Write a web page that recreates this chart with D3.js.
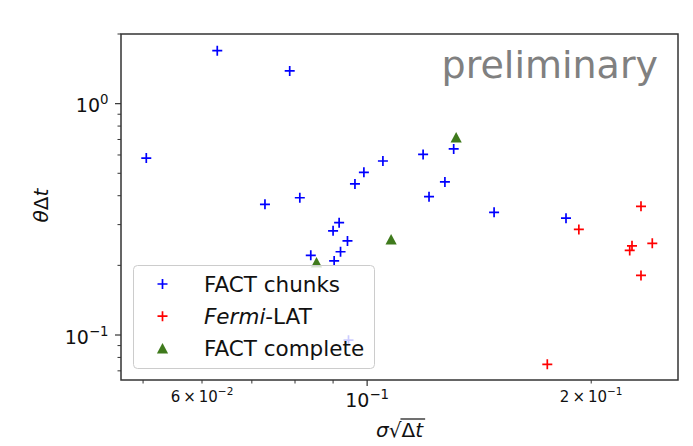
<!DOCTYPE html>
<html>
<head>
<meta charset="utf-8">
<script src="https://cdn.jsdelivr.net/npm/d3@7"></script>
<style>
  body { margin: 0; background: #fff; }
  svg { display: block; font-family: "DejaVu Sans", sans-serif; }
</style>
</head>
<body>
<div id="chart"></div>
<script>
// FACT chunks (blue +)
const chunksX = [0.0629, 0.0787, 0.0505, 0.0729, 0.0812, 0.1050, 0.0990, 0.0963, 0.1189, 0.1307,
                 0.1272, 0.1211, 0.0917, 0.0900, 0.0941, 0.0921, 0.0840, 0.0903, 0.1481, 0.1850, 0.0944];
const chunksY = [1.695, 1.385, 0.582, 0.367, 0.392, 0.565, 0.505, 0.450, 0.603, 0.637,
                 0.459, 0.396, 0.306, 0.282, 0.255, 0.229, 0.221, 0.209, 0.339, 0.320, 0.095];
// Fermi-LAT (red +)
const fermiX = [0.2333, 0.1925, 0.2269, 0.2253, 0.2416, 0.2333, 0.1746];
const fermiY = [0.360, 0.286, 0.243, 0.232, 0.249, 0.181, 0.0747];
// FACT complete (green triangles)
const completeX = [0.1317, 0.1077, 0.0855];
const completeY = [0.714, 0.259, 0.206];

// axis ticks
const xMajor = [0.1];
const xMinor = [0.05, 0.06, 0.07, 0.08, 0.09, 0.2];
const xMinorLabels = [[0.06, "6", "−2"], [0.2, "2", "−1"]];
const yMajor = [[1, "0"], [0.1, "−1"]];
const yMinor = [0.07, 0.08, 0.09, 0.2, 0.3, 0.4, 0.5, 0.6, 0.7, 0.8, 0.9, 2];

const W = 693, H = 446;
const margin = { top: 34, right: 15, bottom: 66, left: 121 };
const width = W - margin.left - margin.right;
const height = H - margin.top - margin.bottom;

const svg = d3.select("#chart").append("svg")
  .attr("width", W)
  .attr("height", H);

const x = d3.scaleLog().domain([0.0467, 0.2616]).range([margin.left, margin.left + width]);
const y = d3.scaleLog().domain([0.0639, 2.0]).range([margin.top + height, margin.top]);

const blue = "#0000ff", red = "#ff0000", green = "#3f7a1c";
const plusPath = "M-5,0H5M0,-5V5";
const triPath = "M0,-5.5L5.6,5L-5.6,5Z";

// points
const gPts = svg.append("g");
function plusSeries(xs, ys, color) {
  gPts.selectAll(null)
    .data(xs.map((v, i) => [v, ys[i]]))
    .enter().append("path")
    .attr("d", plusPath)
    .attr("transform", d => `translate(${x(d[0])},${y(d[1])})`)
    .attr("fill", "none")
    .attr("stroke", color)
    .attr("stroke-width", 1.7);
}
plusSeries(chunksX, chunksY, blue);
plusSeries(fermiX, fermiY, red);
gPts.selectAll(null)
  .data(completeX.map((v, i) => [v, completeY[i]]))
  .enter().append("path")
  .attr("d", triPath)
  .attr("transform", d => `translate(${x(d[0])},${y(d[1])})`)
  .attr("fill", green);

// preliminary watermark
svg.append("text")
  .attr("x", 658)
  .attr("y", 78)
  .attr("text-anchor", "end")
  .style("font-size", "38px")
  .style("fill", "#808080")
  .text("preliminary");

// frame
svg.append("rect")
  .attr("x", margin.left)
  .attr("y", margin.top)
  .attr("width", width)
  .attr("height", height)
  .attr("fill", "none")
  .attr("stroke", "#333")
  .attr("stroke-width", 1.5);

const axisColor = "#333";
const yBottom = margin.top + height;

// x ticks
const gx = svg.append("g");
gx.selectAll(null).data(xMajor).enter().append("line")
  .attr("x1", d => x(d)).attr("x2", d => x(d))
  .attr("y1", yBottom).attr("y2", yBottom + 6)
  .attr("stroke", axisColor).attr("stroke-width", 1.2);
gx.selectAll(null).data(xMinor).enter().append("line")
  .attr("x1", d => x(d)).attr("x2", d => x(d))
  .attr("y1", yBottom).attr("y2", yBottom + 3.5)
  .attr("stroke", axisColor).attr("stroke-width", 1);

const xMajLbl = gx.selectAll(null).data(xMajor).enter().append("text")
  .attr("x", d => x(d))
  .attr("y", 406.5)
  .attr("text-anchor", "middle")
  .style("font-size", "19px")
  .style("fill", "#111");
xMajLbl.append("tspan").text("10");
xMajLbl.append("tspan").attr("dy", -8).style("font-size", "13.3px").text("−1");

const xMinLbl = gx.selectAll(null).data(xMinorLabels).enter().append("text")
  .attr("x", d => x(d[0]))
  .attr("y", 401.5)
  .attr("text-anchor", "middle")
  .style("font-size", "15px")
  .style("fill", "#111");
xMinLbl.append("tspan").text(d => d[1] + "\u2009×\u200910");
xMinLbl.append("tspan").attr("dy", -6.5).style("font-size", "10.5px").text(d => d[2]);

// y ticks
const gy = svg.append("g");
gy.selectAll(null).data(yMajor).enter().append("line")
  .attr("x1", margin.left - 6).attr("x2", margin.left)
  .attr("y1", d => y(d[0])).attr("y2", d => y(d[0]))
  .attr("stroke", axisColor).attr("stroke-width", 1.2);
gy.selectAll(null).data(yMinor).enter().append("line")
  .attr("x1", margin.left - 3.5).attr("x2", margin.left)
  .attr("y1", d => y(d)).attr("y2", d => y(d))
  .attr("stroke", axisColor).attr("stroke-width", 1);

const yLbl = gy.selectAll(null).data(yMajor).enter().append("text")
  .attr("x", 108.5)
  .attr("y", d => y(d[0]) + 8.5)
  .attr("text-anchor", "end")
  .style("font-size", "19px")
  .style("fill", "#111");
yLbl.append("tspan").text("10");
yLbl.append("tspan").attr("dy", -8).style("font-size", "13.3px").text(d => d[1]);

// axis labels
const xl = svg.append("text")
  .attr("x", (margin.left + margin.left + width) / 2)
  .attr("y", 436.5)
  .attr("text-anchor", "middle")
  .style("font-size", "20px")
  .style("fill", "#111");
xl.append("tspan").style("font-style", "italic").text("σ");
xl.append("tspan").text("√");
xl.append("tspan").text("Δ");
xl.append("tspan").style("font-style", "italic").text("t");
// overbar of the square root
const bb = xl.node().getBBox();
const startRad = xl.node().getStartPositionOfChar(2).x;
svg.append("line")
  .attr("x1", startRad - 1).attr("x2", bb.x + bb.width + 1)
  .attr("y1", 419).attr("y2", 419)
  .attr("stroke", "#111").attr("stroke-width", 1.2);

const yl = svg.append("text")
  .attr("transform", `translate(48,${margin.top + height / 2 - 1.5}) rotate(-90)`)
  .attr("text-anchor", "middle")
  .style("font-size", "20px")
  .style("fill", "#111");
yl.append("tspan").style("font-style", "italic").text("θ");
yl.append("tspan").text("Δ");
yl.append("tspan").style("font-style", "italic").text("t");

// legend
const legend = svg.append("g");
legend.append("rect")
  .attr("x", 133.5).attr("y", 265.5)
  .attr("width", 241).attr("height", 103)
  .attr("rx", 4)
  .attr("fill", "#fff").attr("fill-opacity", 0.8)
  .attr("stroke", "#ccc").attr("stroke-width", 1);

const legendItems = [
  { label: ["FACT chunks"], color: blue, mark: "plus" },
  { label: ["Fermi", "-LAT"], color: red, mark: "plus" },
  { label: ["FACT complete"], color: green, mark: "tri" }
];
const rows = legend.selectAll(null).data(legendItems).enter().append("g")
  .attr("transform", (d, i) => `translate(0,${284 + i * 32.2})`);
rows.append("path")
  .attr("d", d => d.mark === "plus" ? plusPath : triPath)
  .attr("transform", "translate(162.5,0)")
  .attr("fill", d => d.mark === "plus" ? "none" : d.color)
  .attr("stroke", d => d.mark === "plus" ? d.color : "none")
  .attr("stroke-width", 1.7);
const lt = rows.append("text")
  .attr("x", 204)
  .attr("y", 7.5)
  .style("font-size", "21.5px")
  .style("fill", "#111");
lt.each(function(d) {
  const t = d3.select(this);
  if (d.label.length === 2) {
    t.append("tspan").style("font-style", "italic").text(d.label[0]);
    t.append("tspan").text(d.label[1]);
  } else {
    t.text(d.label[0]);
  }
});
</script>
</body>
</html>
